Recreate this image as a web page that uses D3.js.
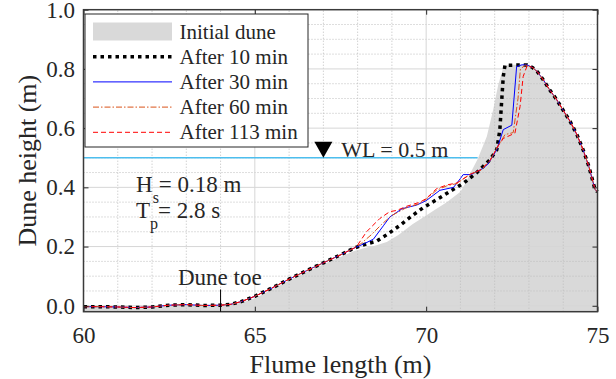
<!DOCTYPE html>
<html>
<head>
<meta charset="utf-8">
<script src="https://cdn.jsdelivr.net/npm/d3@7"></script>
<style>
  body { margin: 0; background: #fff; }
  text { font-family: "Liberation Serif", "Times New Roman", serif; fill: #262626; }
</style>
</head>
<body>
<script>
const width = 616;
const height = 379;
const margin = { left: 83.5, top: 9.7, right: 18.5, bottom: 67.3 };

// profiles: [flume length (m), dune height (m)]
const toeProfile = [[60, -0.003], [60.5, -0.003], [61, -0.004], [61.5, -0.006], [62, -0.004],
  [62.5, 0.002], [63, 0.004], [63.5, 0.001], [64, 0.002], [64.3, 0.005], [64.6, 0.014],
  [65, 0.032], [65.5, 0.06], [66, 0.09], [66.5, 0.118], [67, 0.145], [67.5, 0.172], [67.9, 0.195]];
const backProfile = [[73.1, 0.805], [73.25, 0.79], [73.42, 0.763], [73.6, 0.73], [73.81, 0.696],
  [74, 0.66], [74.2, 0.623], [74.4, 0.578], [74.58, 0.527], [74.75, 0.47], [74.93, 0.392], [75, 0.385]];

const initialDune = [[60, -0.004], [61, -0.005], [62, -0.005], [63, 0.003], [64, 0.001],
  [64.3, 0.004], [64.6, 0.01], [65, 0.025], [65.5, 0.055], [66, 0.085], [66.5, 0.113],
  [67, 0.14], [67.5, 0.165], [67.9, 0.185], [68.2, 0.195], [68.5, 0.203], [68.85, 0.215],
  [69.2, 0.24], [69.6, 0.275], [70, 0.305], [70.2, 0.32], [70.6, 0.35], [71, 0.385],
  [71.15, 0.415], [71.3, 0.45], [71.5, 0.495], [71.77, 0.572], [71.96, 0.665], [72.1, 0.745],
  [72.25, 0.805], [72.4, 0.814], [72.95, 0.814]];
const after10 = [[68.2, 0.207], [68.55, 0.218], [68.85, 0.24], [69.24, 0.272], [69.6, 0.305],
  [69.9, 0.33], [70.4, 0.365], [70.75, 0.39], [71.1, 0.415], [71.47, 0.449], [71.86, 0.493],
  [72.06, 0.527], [72.15, 0.594], [72.2, 0.685], [72.25, 0.774], [72.3, 0.812], [72.65, 0.813],
  [72.95, 0.813]];
const after30 = [[68.2, 0.21], [68.46, 0.225], [68.75, 0.27], [68.94, 0.3], [69.3, 0.328],
  [69.72, 0.34], [70, 0.355], [70.4, 0.39], [70.8, 0.4], [71, 0.43], [71.08, 0.443],
  [71.3, 0.443], [71.6, 0.46], [71.8, 0.478], [72.06, 0.527], [72.25, 0.595], [72.5, 0.61],
  [72.64, 0.808], [72.8, 0.814], [72.95, 0.813]];
const after60 = [[68.1, 0.21], [68.4, 0.24], [68.7, 0.275], [69, 0.305], [69.4, 0.33],
  [69.8, 0.345], [70, 0.36], [70.3, 0.39], [70.6, 0.405], [70.9, 0.413], [71.1, 0.43],
  [71.3, 0.445], [71.6, 0.458], [71.86, 0.49], [72.1, 0.54], [72.3, 0.578], [72.54, 0.585],
  [72.68, 0.7], [72.75, 0.8], [72.9, 0.813]];
const after113 = [[68, 0.205], [68.26, 0.25], [68.65, 0.295], [68.94, 0.318], [69.14, 0.322],
  [69.43, 0.336], [69.82, 0.35], [70, 0.362], [70.3, 0.395], [70.6, 0.408], [70.9, 0.415],
  [71.1, 0.43], [71.3, 0.445], [71.6, 0.46], [71.86, 0.49], [72.1, 0.54], [72.25, 0.565],
  [72.59, 0.583], [72.74, 0.673], [72.83, 0.774], [72.95, 0.812]];

const waterLevel = 0.5;
const waterEnd = 71.5;
const waveMarkerX = 67;
const duneToeX = 64;

const xTicks = [60, 65, 70, 75];
const yTicks = [0, 0.2, 0.4, 0.6, 0.8, 1.0];
const xMinor = d3.range(61, 75, 1).filter(v => v % 5 !== 0);
const yMinor = d3.range(0.05, 1.0, 0.05).filter(v => Math.abs(v / 0.2 - Math.round(v / 0.2)) > 0.01);

const legendLabels = ["Initial dune", "After 10 min", "After 30 min", "After 60 min", "After 113 min"];

const series = [
  { data: toeProfile.concat(after10, backProfile), color: "#000", w: 3.5, dash: "3.5,4" },
  { data: toeProfile.concat(after30, backProfile), color: "#0000ff", w: 1, dash: null },
  { data: toeProfile.concat(after60, backProfile), color: "#D95319", w: 1, dash: "6,2,1.5,2" },
  { data: toeProfile.concat(after113, backProfile), color: "#ff0000", w: 1, dash: "5,3" }
];

const svg = d3.select("body").append("svg")
    .attr("width", width)
    .attr("height", height);

const x = d3.scaleLinear().domain([60, 75]).range([margin.left, width - margin.right]);
const y = d3.scaleLinear().domain([-0.02, 1.0]).range([height - margin.bottom, margin.top]);

// initial dune fill
svg.append("path")
    .datum(initialDune.concat(backProfile))
    .attr("fill", "#d9d9d9")
    .attr("d", d3.area().x(d => x(d[0])).y0(y(-0.02)).y1(d => y(d[1])));

// grid
const grid = svg.append("g");
grid.selectAll(".xm").data(xMinor).join("line")
    .attr("x1", d => x(d)).attr("x2", d => x(d))
    .attr("y1", y(-0.02)).attr("y2", y(1))
    .attr("stroke", "#bdbdbd").attr("stroke-dasharray", "1,2");
grid.selectAll(".ym").data(yMinor).join("line")
    .attr("x1", x(60)).attr("x2", x(75))
    .attr("y1", d => y(d)).attr("y2", d => y(d))
    .attr("stroke", "#bdbdbd").attr("stroke-dasharray", "1,2");
grid.selectAll(".xM").data(xTicks.slice(1, -1)).join("line")
    .attr("x1", d => x(d)).attr("x2", d => x(d))
    .attr("y1", y(-0.02)).attr("y2", y(1))
    .attr("stroke", "#d6d6d6");
grid.selectAll(".yM").data(yTicks.slice(0, -1)).join("line")
    .attr("x1", x(60)).attr("x2", x(75))
    .attr("y1", d => y(d)).attr("y2", d => y(d))
    .attr("stroke", "#d6d6d6");

// water level
svg.append("line")
    .attr("x1", x(60)).attr("x2", x(waterEnd))
    .attr("y1", y(waterLevel)).attr("y2", y(waterLevel))
    .attr("stroke", "#4DBEEE").attr("stroke-width", 1.5);

// profiles
const line = d3.line().x(d => x(d[0])).y(d => y(d[1]));
series.forEach(s => {
  svg.append("path")
      .datum(s.data)
      .attr("fill", "none")
      .attr("stroke", s.color)
      .attr("stroke-width", s.w)
      .attr("stroke-dasharray", s.dash)
      .attr("d", line);
});

// axes box and inward ticks
const fontTick = 23;
svg.append("g")
    .attr("transform", `translate(0,${y(-0.02)})`)
    .call(d3.axisBottom(x).tickValues(xTicks).tickFormat(d3.format("d"))
      .tickSizeInner(-5).tickSizeOuter(0).tickPadding(15))
    .call(g => g.select(".domain").remove())
    .call(g => g.selectAll("line").attr("stroke", "#262626"))
    .call(g => g.selectAll("text").attr("font-size", fontTick).attr("fill", "#262626"));
svg.append("g")
    .attr("transform", `translate(${x(60)},0)`)
    .call(d3.axisLeft(y).tickValues(yTicks).tickFormat(d3.format(".1f"))
      .tickSizeInner(-5).tickSizeOuter(0).tickPadding(8.5))
    .call(g => g.select(".domain").remove())
    .call(g => g.selectAll("line").attr("stroke", "#262626"))
    .call(g => g.selectAll("text").attr("font-size", fontTick).attr("fill", "#262626"));
svg.append("g")
    .attr("transform", `translate(0,${y(1)})`)
    .call(d3.axisTop(x).tickValues(xTicks).tickFormat("").tickSizeInner(-5).tickSizeOuter(0))
    .call(g => g.select(".domain").remove())
    .call(g => g.selectAll("line").attr("stroke", "#262626"));
svg.append("g")
    .attr("transform", `translate(${x(75)},0)`)
    .call(d3.axisRight(y).tickValues(yTicks).tickFormat("").tickSizeInner(-5).tickSizeOuter(0))
    .call(g => g.select(".domain").remove())
    .call(g => g.selectAll("line").attr("stroke", "#262626"));

svg.append("rect")
    .attr("x", x(60)).attr("y", y(1))
    .attr("width", x(75) - x(60)).attr("height", y(-0.02) - y(1))
    .attr("fill", "none").attr("stroke", "#3a3a3a").attr("stroke-width", 1.5);

// axis titles
svg.append("text")
    .attr("x", (x(60) + x(75)) / 2).attr("y", 373)
    .attr("text-anchor", "middle").attr("font-size", 26)
    .text("Flume length (m)");
svg.append("text")
    .attr("transform", `translate(36,${(y(1) + y(-0.02)) / 2}) rotate(-90)`)
    .attr("text-anchor", "middle").attr("font-size", 26)
    .text("Dune height (m)");

// water level marker and label
const tx = x(waveMarkerX), ty = y(waterLevel);
svg.append("path")
    .attr("d", `M${tx},${ty} L${tx - 9},${ty - 16} L${tx + 9},${ty - 16} Z`)
    .attr("fill", "#000");
svg.append("text")
    .attr("x", tx + 18).attr("y", ty - 0.7)
    .attr("font-size", 22).attr("fill", "#000")
    .text("WL = 0.5 m");

// wave conditions
const hs = svg.append("text").attr("x", 136).attr("y", 191.7).attr("font-size", 23).attr("fill", "#000");
hs.append("tspan").text("H");
hs.append("tspan").attr("dy", 11).attr("font-size", 16).text("s");
hs.append("tspan").attr("dy", -11).text("= 0.18 m");
const tp = svg.append("text").attr("x", 136).attr("y", 218).attr("font-size", 23).attr("fill", "#000");
tp.append("tspan").text("T");
tp.append("tspan").attr("dy", 11).attr("font-size", 16).text("p");
tp.append("tspan").attr("dy", -11).text("= 2.8 s");

// dune toe
svg.append("line")
    .attr("x1", x(duneToeX)).attr("x2", x(duneToeX))
    .attr("y1", y(0.055)).attr("y2", y(-0.02))
    .attr("stroke", "#000").attr("stroke-width", 1);
svg.append("text")
    .attr("x", 178).attr("y", 285)
    .attr("font-size", 23).attr("fill", "#000")
    .text("Dune toe");

// legend
const legend = svg.append("g");
legend.append("rect")
    .attr("x", 85).attr("y", 14).attr("width", 223).attr("height", 133)
    .attr("fill", "#fff").attr("stroke", "#262626").attr("stroke-width", 1);
const rowY = d3.range(legendLabels.length).map(i => 31.5 + i * 25.2);
legend.append("rect")
    .attr("x", 93).attr("y", rowY[0] - 9).attr("width", 79).attr("height", 18)
    .attr("fill", "#d9d9d9");
series.forEach((s, i) => {
  legend.append("line")
      .attr("x1", 93).attr("x2", 172)
      .attr("y1", rowY[i + 1]).attr("y2", rowY[i + 1])
      .attr("stroke", s.color)
      .attr("stroke-width", s.w)
      .attr("stroke-dasharray", s.dash);
});
legend.selectAll("text.lab").data(legendLabels).join("text")
    .attr("x", 179.5)
    .attr("y", (d, i) => rowY[i] + 7)
    .attr("font-size", 21).attr("fill", "#000")
    .text(d => d);
</script>
</body>
</html>
